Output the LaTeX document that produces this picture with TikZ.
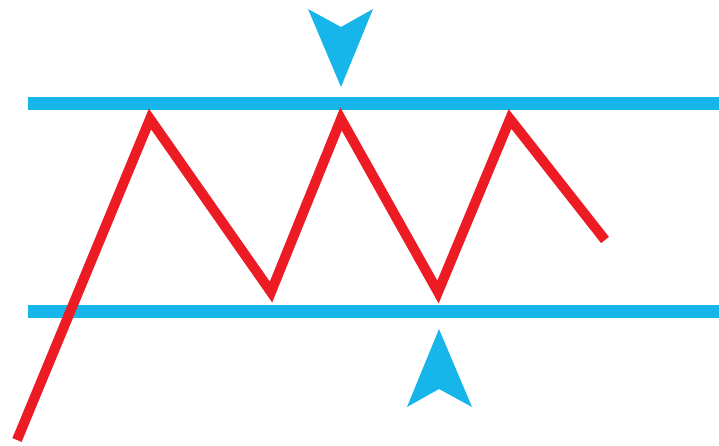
\documentclass[tikz,border=0pt]{standalone}
\definecolor{cyanblue}{RGB}{23,182,234}
\definecolor{zigred}{RGB}{237,28,36}
\begin{document}
\begin{tikzpicture}[x=1pt,y=-1pt,
  band/.style={draw=cyanblue,line width=13pt},
  zig/.style={draw=zigred,line width=10pt,line join=miter,miter limit=10},
  marker/.style={fill=cyanblue}]
\useasboundingbox (0,0) rectangle (719,445);
\draw[band] (28,103.5) -- (719,103.5);
\draw[band] (28,311) -- (719,311);
\coordinate (s) at (17,440);
\coordinate (p1) at (150,119);
\coordinate (v1) at (271,292);
\coordinate (p2) at (341,119);
\coordinate (v2) at (438,292);
\coordinate (p3) at (510,119);
\coordinate (e) at (605,240);
\draw[zig] (s) -- (p1) -- (v1) -- (p2) -- (v2) -- (p3) -- (e);
\fill[marker] (308,9) -- (341,27) -- (373,9) -- (341,87) -- cycle;
\fill[marker] (407,407) -- (439,389) -- (472,407) -- (439,329) -- cycle;
\end{tikzpicture}
\end{document}
